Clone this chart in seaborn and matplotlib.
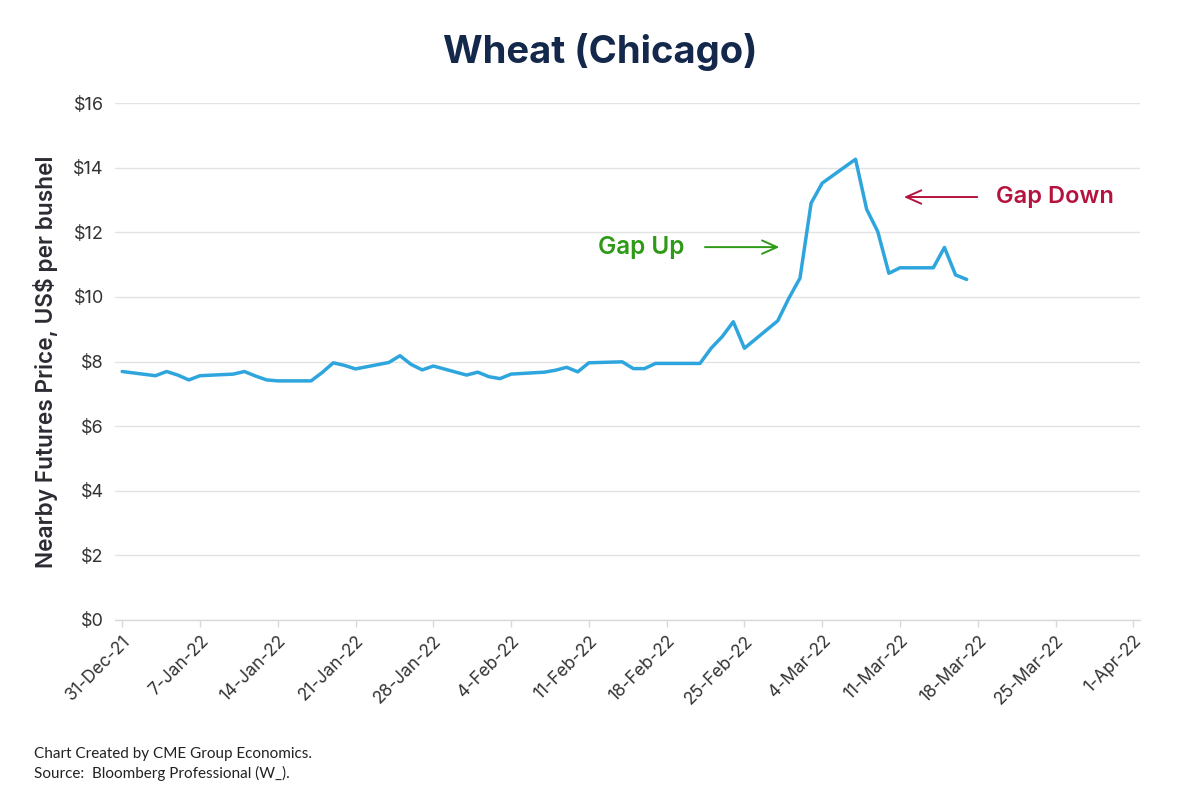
import matplotlib
matplotlib.use("Agg")
import matplotlib.pyplot as plt
import seaborn as sns
import pandas as pd
import numpy as np

# ---- data ----
dates = [
    "2021-12-31", "2022-01-03", "2022-01-04", "2022-01-05", "2022-01-06", "2022-01-07",
    "2022-01-10", "2022-01-11", "2022-01-12", "2022-01-13", "2022-01-14",
    "2022-01-17", "2022-01-18", "2022-01-19", "2022-01-20", "2022-01-21",
    "2022-01-24", "2022-01-25", "2022-01-26", "2022-01-27", "2022-01-28",
    "2022-01-31", "2022-02-01", "2022-02-02", "2022-02-03", "2022-02-04",
    "2022-02-07", "2022-02-08", "2022-02-09", "2022-02-10", "2022-02-11",
    "2022-02-14", "2022-02-15", "2022-02-16", "2022-02-17", "2022-02-18",
    "2022-02-21", "2022-02-22", "2022-02-23", "2022-02-24", "2022-02-25",
    "2022-02-28", "2022-03-01", "2022-03-02", "2022-03-03", "2022-03-04",
    "2022-03-07", "2022-03-08", "2022-03-09", "2022-03-10", "2022-03-11",
    "2022-03-14", "2022-03-15", "2022-03-16", "2022-03-17",
]
prices = [
    7.69, 7.56, 7.69, 7.58, 7.43, 7.56,
    7.61, 7.69, 7.55, 7.43, 7.40,
    7.40, 7.66, 7.96, 7.88, 7.77,
    7.97, 8.18, 7.91, 7.74, 7.86,
    7.58, 7.67, 7.53, 7.47, 7.61,
    7.67, 7.73, 7.82, 7.68, 7.96,
    7.99, 7.78, 7.78, 7.94, 7.94,
    7.94, 8.41, 8.77, 9.23, 8.41,
    9.26, 9.96, 10.58, 12.90, 13.52,
    14.26, 12.71, 12.02, 10.73, 10.90,
    10.90, 11.53, 10.68, 10.54,
]
tick_labels = ["31-Dec-21", "7-Jan-22", "14-Jan-22", "21-Jan-22", "28-Jan-22",
               "4-Feb-22", "11-Feb-22", "18-Feb-22", "25-Feb-22", "4-Mar-22",
               "11-Mar-22", "18-Mar-22", "25-Mar-22", "1-Apr-22"]
y_ticks = [0, 2, 4, 6, 8, 10, 12, 14, 16]

title = "Wheat (Chicago)"
ylabel = "Nearby Futures Price, US$ per bushel"
footer = "Chart Created by CME Group Economics.\nSource:  Bloomberg Professional (W_)."

df = pd.DataFrame({"date": pd.to_datetime(dates), "price": prices})
tick_dates = pd.to_datetime([pd.Timestamp("2021-12-31") + pd.Timedelta(days=7 * i)
                             for i in range(len(tick_labels))])

# ---- style ----
sns.set_theme(style="white")
plt.rcParams["font.family"] = ["Inter", "DejaVu Sans"]

NAVY = "#14284B"
LINE = "#2EA6DD"
GREEN = "#2E9A17"
RED = "#B5123E"
TXT = "#333333"

fig = plt.figure(figsize=(12, 8), dpi=100)
ax = fig.add_axes([0.0958, 0.225, 0.8542, 0.64625])

sns.lineplot(data=df, x="date", y="price", color=LINE, linewidth=2.5, ax=ax)

start = pd.Timestamp("2021-12-31")
ax.set_xlim(start - pd.Timedelta(days=0.65), pd.Timestamp("2022-04-01") + pd.Timedelta(days=0.6))
ax.set_ylim(0, 16)

ax.set_xticks(tick_dates)
ax.set_xticklabels(tick_labels, rotation=45, ha="right", rotation_mode="anchor",
                   fontsize=12.5, color=TXT)
ax.set_yticks(y_ticks)
ax.set_yticklabels([f"${v}" for v in y_ticks], fontsize=13, color=TXT)

ax.grid(axis="y", color="#E3E3E3", linewidth=1)
ax.grid(axis="x", visible=False)
for s in ["top", "right", "left"]:
    ax.spines[s].set_visible(False)
ax.spines["bottom"].set_color("#D9D9D9")
ax.spines["bottom"].set_linewidth(1)
ax.tick_params(axis="x", which="major", length=5, width=1, color="#D9D9D9",
               bottom=True, pad=4)
ax.tick_params(axis="y", length=0, pad=8)

ax.set_xlabel("")
ax.set_ylabel(ylabel, fontsize=16.3, fontweight="semibold", color="#2B2B33", labelpad=11)

fig.text(0.5, 0.935, title, ha="center", va="center", fontsize=27.5,
         fontweight="bold", color=NAVY)
fig.text(0.028, 0.045, footer, ha="left", va="center", fontsize=11,
         color="#222222", linespacing=1.35, family=["Lato", "DejaVu Sans"])

# ---- annotations ----
def d(days):
    return start + pd.Timedelta(days=days)

ax.annotate("", xy=(d(59.4), 11.54), xytext=(d(52.2), 11.54),
            arrowprops=dict(arrowstyle="->,head_length=0.9,head_width=0.4",
                            color=GREEN, lw=1.4))
ax.text(d(42.8), 11.54, "Gap Up", color=GREEN, fontsize=17.5, fontweight="semibold",
        ha="left", va="center")

ax.annotate("", xy=(d(70.1), 13.09), xytext=(d(77.2), 13.09),
            arrowprops=dict(arrowstyle="->,head_length=0.9,head_width=0.4",
                            color=RED, lw=1.4))
ax.text(d(78.6), 13.09, "Gap Down", color=RED, fontsize=17, fontweight="semibold",
        ha="left", va="center")

fig.savefig("out.png", dpi=100)
